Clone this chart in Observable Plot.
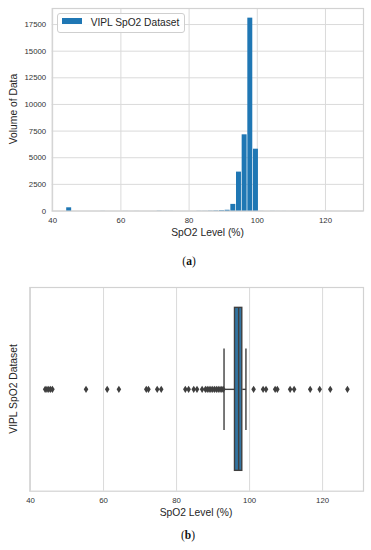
<!DOCTYPE html>
<html>
<head>
<meta charset="utf-8">
<script src="https://cdn.jsdelivr.net/npm/d3@7"></script>
<script src="https://cdn.jsdelivr.net/npm/@observablehq/plot@0.6"></script>
<style>
  html, body { margin: 0; padding: 0; background: #fff; }
  #page { position: relative; width: 371px; height: 550px; overflow: hidden; font-family: "Liberation Sans", Arial, sans-serif; color: #262626; }
  .abs { position: absolute; white-space: nowrap; }
  .lbl { font-size: 10.3px; transform: translate(-50%, -50%); }
  .ylbl { font-size: 10.3px; transform: translate(-50%, -50%) rotate(-90deg); }
  .cap { font-family: "Liberation Serif", "Times New Roman", serif; font-size: 11.5px; color: #111; transform: translate(-50%, -50%); }
  .cap b { font-weight: bold; }
  svg { position: absolute; left: 0; }
</style>
</head>
<body>
<div id="page"></div>
<script>
// ---------- data ----------
// (a) histogram: 50 equal bins spanning the data range
const histMin = 44;
const binWidth = 1.66;
const histCounts = [
  300, 0, 0, 0, 0, 0, 3, 0, 0, 0,
  2, 0, 2, 0, 0, 0, 8, 3, 4, 0,
  0, 0, 0, 6, 5, 12, 20, 35, 70, 620,
  3650, 7150, 18100, 5800, 3, 0, 4, 2, 2, 0,
  2, 1, 0, 1, 0, 1, 1, 0, 0, 1
];
const histXTicks = [40, 60, 80, 100, 120];
const histYTicks = [0, 2500, 5000, 7500, 10000, 12500, 15000, 17500];
const seriesName = "VIPL SpO2 Dataset";

// (b) box plot
const boxQ1 = 96, boxMedian = 97, boxQ3 = 98, whiskerLow = 93, whiskerHigh = 99;
const outliers = [
  44, 44.5, 45, 45.5, 46, 55.2, 61, 64.2, 71.7, 72.3, 74.7, 75.8,
  82.4, 83.3, 84.7, 85.6, 87, 87.9, 88.4, 88.9, 89.4, 89.9, 90.4, 90.9,
  91.4, 91.9, 92.4, 92.8, 101.1, 103.7, 104.5, 107, 107.6, 111.1, 112.2,
  116.6, 119.2, 122.1, 126.8
];
const boxXTicks = [40, 60, 80, 100, 120];

// ---------- build ----------
const page = document.getElementById("page");
const gridColor = "#dadada";
const frameColor = "#d2d2d2";
const dark = "#3f3f3f";

const bins = histCounts.map((c, i) => ({
  x1: histMin + i * binWidth,
  x2: histMin + (i + 1) * binWidth,
  count: c
}));

const baseStyle = { fontFamily: "Liberation Sans, Arial, sans-serif", fontSize: "7.8px", color: "#333", background: "transparent", overflow: "visible" };

const histChart = Plot.plot({
  width: 371, height: 228,
  marginLeft: 51.7, marginRight: 8, marginTop: 8, marginBottom: 17.5,
  style: baseStyle,
  x: { domain: [39.85, 131.15] },
  y: { domain: [0, 19005] },
  marks: [
    Plot.gridX(histXTicks, { stroke: gridColor, strokeOpacity: 1, strokeWidth: 1 }),
    Plot.gridY(histYTicks, { stroke: gridColor, strokeOpacity: 1, strokeWidth: 1 }),
    Plot.frame({ stroke: frameColor, strokeWidth: 1.2 }),
    Plot.rectY(bins, { x1: "x1", x2: "x2", y: "count", fill: "#1f77b4", insetLeft: 0.35, insetRight: 0.35 }),
    Plot.axisX({ ticks: histXTicks, tickSize: 0, tickPadding: 6.5, label: null, tickFormat: d => String(d) }),
    Plot.axisY({ ticks: histYTicks, tickSize: 0, tickPadding: 6, label: null, tickFormat: d => String(d) })
  ]
});
histChart.style.top = "0px";
page.appendChild(histChart);

const thinDiamond = {
  draw(ctx, size) {
    const r = Math.sqrt(size / Math.PI);
    const h = r * 1.5, w = r * 0.95;
    ctx.moveTo(0, -h); ctx.lineTo(w, 0); ctx.lineTo(0, h); ctx.lineTo(-w, 0); ctx.closePath();
  }
};

const box = [{ q1: boxQ1, median: boxMedian, q3: boxQ3, lo: whiskerLow, hi: whiskerHigh }];

const boxChart = Plot.plot({
  width: 371, height: 236,
  marginLeft: 29.3, marginRight: 8, marginTop: 17, marginBottom: 15.3,
  style: baseStyle,
  x: { domain: [39.8, 131.2] },
  y: { domain: [-0.5, 0.5], axis: null },
  marks: [
    Plot.gridX(boxXTicks, { stroke: gridColor, strokeOpacity: 1, strokeWidth: 1 }),
    Plot.frame({ stroke: frameColor, strokeWidth: 1.2 }),
    Plot.link(box, { x1: "lo", x2: "q1", y1: () => 0, y2: () => 0, stroke: dark, strokeWidth: 1.4 }),
    Plot.link(box, { x1: "q3", x2: "hi", y1: () => 0, y2: () => 0, stroke: dark, strokeWidth: 1.4 }),
    Plot.link(box, { x1: "lo", x2: "lo", y1: () => -0.2, y2: () => 0.2, stroke: dark, strokeWidth: 1.4 }),
    Plot.link(box, { x1: "hi", x2: "hi", y1: () => -0.2, y2: () => 0.2, stroke: dark, strokeWidth: 1.4 }),
    Plot.rect(box, { x1: "q1", x2: "q3", y1: () => -0.4, y2: () => 0.4, fill: "#3274a1", stroke: dark, strokeWidth: 1.4 }),
    Plot.link(box, { x1: "median", x2: "median", y1: () => -0.4, y2: () => 0.4, stroke: dark, strokeWidth: 1.4 }),
    Plot.dot(outliers, { x: d => d, y: () => 0, symbol: thinDiamond, r: 2.4, fill: dark, stroke: "none" }),
    Plot.axisX({ ticks: boxXTicks, tickSize: 0, tickPadding: 6.5, label: null, tickFormat: d => String(d) })
  ]
});
boxChart.style.top = "270px";
page.appendChild(boxChart);

// ---------- texts & legend ----------
function addText(cls, html, x, y) {
  const d = document.createElement("div");
  d.className = "abs " + cls;
  d.innerHTML = html;
  d.style.left = x + "px";
  d.style.top = y + "px";
  page.appendChild(d);
}
addText("ylbl", "Volume of Data", 13.3, 109);
addText("lbl", "SpO2 Level (%)", 207.6, 232);
addText("cap", "(<b>a</b>)", 189, 261);
addText("ylbl", seriesName, 13.3, 389);
addText("lbl", "SpO2 Level (%)", 196, 512);
addText("cap", "(<b>b</b>)", 188, 535);

const leg = document.createElement("div");
leg.className = "abs";
Object.assign(leg.style, {
  left: "57.3px", top: "12.7px", width: "125.7px", height: "18px",
  border: "1px solid #cfcfcf", borderRadius: "3px", background: "rgba(255,255,255,0.9)"
});
page.appendChild(leg);
const sw = document.createElement("div");
sw.className = "abs";
Object.assign(sw.style, { left: "62.3px", top: "18.3px", width: "19.4px", height: "5.7px", background: "#1f77b4" });
page.appendChild(sw);
const lt = document.createElement("div");
lt.className = "abs";
lt.textContent = seriesName;
Object.assign(lt.style, { left: "90.7px", top: "21.5px", fontSize: "10.2px", transform: "translateY(-50%)", color: "#262626" });
page.appendChild(lt);
</script>
</body>
</html>
